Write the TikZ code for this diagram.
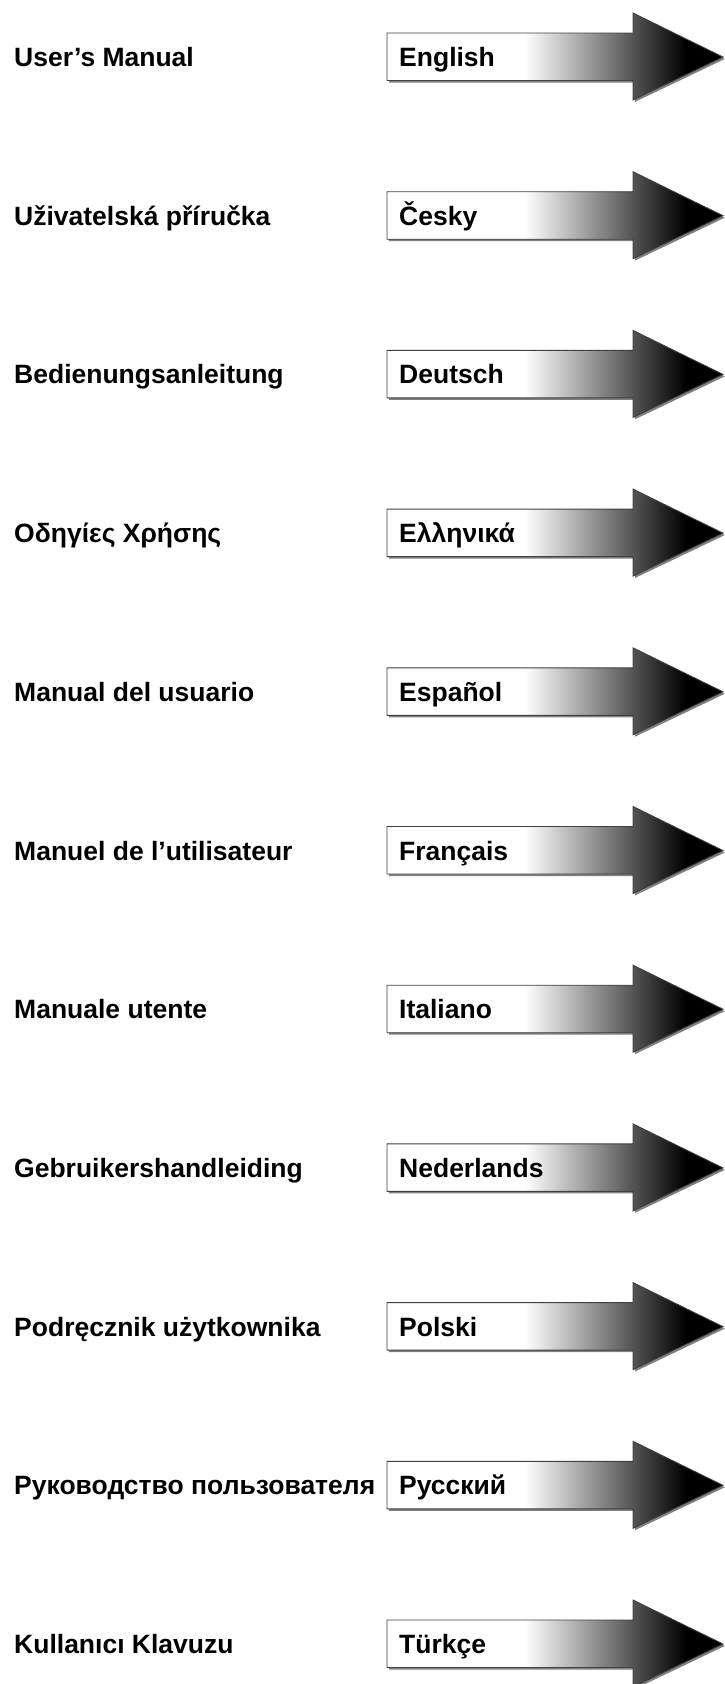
\documentclass[tikz,border=0pt]{standalone}
\usepackage{fontspec}
\setmainfont{Liberation Sans}
\usetikzlibrary{shadows}

\pgfdeclarehorizontalshading{arrowfade}{100bp}{color(0bp)=(white); color(45.5bp)=(white); color(69.5bp)=(black); color(100bp)=(black)}

\tikzset{
    langarrow/.pic={
        \shade[shading=arrowfade, draw=black!75, line width=0.9pt,
               drop shadow={shadow xshift=1.8pt, shadow yshift=-2pt, fill=black!55, opacity=0.9}]
            (387,-24) -- (633,-24) -- (633,-44) -- (723,0) -- (633,43) -- (633,23.5) -- (387,23.5) -- cycle;
    },
    manual/.style={anchor=base west, inner sep=0pt, font=\fontsize{26.5}{32}\selectfont\bfseries},
    langname/.style={manual}
}

\begin{document}
\begin{tikzpicture}[x=1pt, y=-1pt]
            \useasboundingbox (0,0) rectangle (725,1684);

            \pic at (0,57) {langarrow};
            \pic at (0,215.7) {langarrow};
            \pic at (0,374.4) {langarrow};
            \pic at (0,533.1) {langarrow};
            \pic at (0,691.8) {langarrow};
            \pic at (0,850.5) {langarrow};
            \pic at (0,1009.2) {langarrow};
            \pic at (0,1167.9) {langarrow};
            \pic at (0,1326.6) {langarrow};
            \pic at (0,1485.3) {langarrow};
            \pic at (0,1644) {langarrow};

            \node[manual] (man-en) at (14,66.5) {User’s Manual};
            \node[manual] (man-cs) at (14,225.2) {Uživatelská příručka};
            \node[manual] (man-de) at (14,383.9) {Bedienungsanleitung};
            \node[manual] (man-el) at (14,542.6) {Οδηγίες Χρήσης};
            \node[manual] (man-es) at (14,701.3) {Manual del usuario};
            \node[manual] (man-fr) at (14,860) {Manuel de l’utilisateur};
            \node[manual] (man-it) at (14,1018.7) {Manuale utente};
            \node[manual] (man-nl) at (14,1177.4) {Gebruikershandleiding};
            \node[manual] (man-pl) at (14,1336.1) {Podręcznik użytkownika};
            \node[manual] (man-ru) at (14,1494.8) {Руководство пользователя};
            \node[manual] (man-tr) at (14,1653.5) {Kullanıcı Klavuzu};

            \node[langname] (lang-en) at (399,66.5) {English};
            \node[langname] (lang-cs) at (399,225.2) {Česky};
            \node[langname] (lang-de) at (399,383.9) {Deutsch};
            \node[langname] (lang-el) at (399,542.6) {Ελληνικά};
            \node[langname] (lang-es) at (399,701.3) {Español};
            \node[langname] (lang-fr) at (399,860) {Français};
            \node[langname] (lang-it) at (399,1018.7) {Italiano};
            \node[langname] (lang-nl) at (399,1177.4) {Nederlands};
            \node[langname] (lang-pl) at (399,1336.1) {Polski};
            \node[langname] (lang-ru) at (399,1494.8) {Русский};
            \node[langname] (lang-tr) at (399,1653.5) {Türkçe};
\end{tikzpicture}
\end{document}
